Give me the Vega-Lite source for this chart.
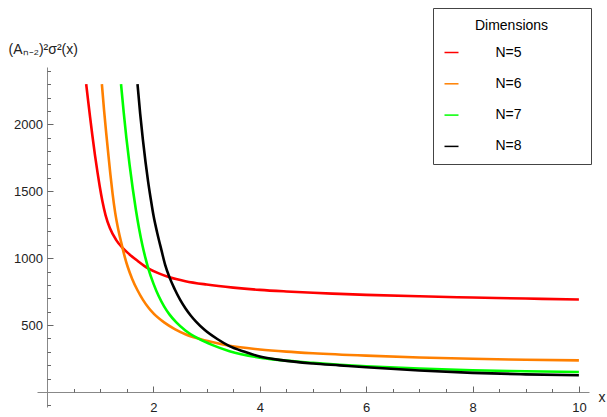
{
  "$schema": "https://vega.github.io/schema/vega-lite/v6.json",
  "width": 552,
  "height": 340,
  "autosize": {"type": "none"},
  "padding": {"left": 37, "top": 67, "right": 18, "bottom": 10},
  "background": "white",
  "config": {"view": {"stroke": null}, "font": "Liberation Sans", "axis": {"grid": false}},
  "data": {"values": [
    {"N":"N=5","x":0.735,"y":2300},{"N":"N=5","x":0.77,"y":2180},{"N":"N=5","x":0.807,"y":2057},{"N":"N=5","x":0.85,"y":1920},{"N":"N=5","x":0.9,"y":1770},{"N":"N=5","x":0.95,"y":1635},{"N":"N=5","x":0.99,"y":1535},{"N":"N=5","x":1.04,"y":1425},{"N":"N=5","x":1.1,"y":1320},{"N":"N=5","x":1.18,"y":1225},{"N":"N=5","x":1.3,"y":1135},{"N":"N=5","x":1.41,"y":1080},{"N":"N=5","x":1.55,"y":1028},{"N":"N=5","x":1.7,"y":980},{"N":"N=5","x":1.9,"y":923},{"N":"N=5","x":2.1,"y":886},{"N":"N=5","x":2.3,"y":857},{"N":"N=5","x":2.6,"y":828},{"N":"N=5","x":3.0,"y":803},{"N":"N=5","x":3.5,"y":780},{"N":"N=5","x":4.0,"y":763},{"N":"N=5","x":4.5,"y":751},{"N":"N=5","x":5.0,"y":741},{"N":"N=5","x":5.5,"y":733},{"N":"N=5","x":6,"y":726},{"N":"N=5","x":7,"y":715},{"N":"N=5","x":8,"y":706},{"N":"N=5","x":9,"y":698},{"N":"N=5","x":10,"y":691},
    {"N":"N=6","x":1.03,"y":2300},{"N":"N=6","x":1.07,"y":2110},{"N":"N=6","x":1.11,"y":1940},{"N":"N=6","x":1.15,"y":1780},{"N":"N=6","x":1.19,"y":1625},{"N":"N=6","x":1.23,"y":1485},{"N":"N=6","x":1.28,"y":1340},{"N":"N=6","x":1.34,"y":1210},{"N":"N=6","x":1.41,"y":1090},{"N":"N=6","x":1.46,"y":1010},{"N":"N=6","x":1.52,"y":930},{"N":"N=6","x":1.6,"y":845},{"N":"N=6","x":1.7,"y":760},{"N":"N=6","x":1.8,"y":690},{"N":"N=6","x":1.9,"y":633},{"N":"N=6","x":2.0,"y":587},{"N":"N=6","x":2.2,"y":520},{"N":"N=6","x":2.4,"y":470},{"N":"N=6","x":2.6,"y":432},{"N":"N=6","x":2.84,"y":400},{"N":"N=6","x":3.1,"y":373},{"N":"N=6","x":3.43,"y":345},{"N":"N=6","x":4,"y":318},{"N":"N=6","x":4.5,"y":302},{"N":"N=6","x":5,"y":290},{"N":"N=6","x":6,"y":272},{"N":"N=6","x":7,"y":258},{"N":"N=6","x":8,"y":248},{"N":"N=6","x":9,"y":241},{"N":"N=6","x":10,"y":236},
    {"N":"N=7","x":1.39,"y":2300},{"N":"N=7","x":1.44,"y":2090},{"N":"N=7","x":1.49,"y":1900},{"N":"N=7","x":1.55,"y":1700},{"N":"N=7","x":1.61,"y":1520},{"N":"N=7","x":1.67,"y":1360},{"N":"N=7","x":1.73,"y":1220},{"N":"N=7","x":1.79,"y":1100},{"N":"N=7","x":1.85,"y":1000},{"N":"N=7","x":1.905,"y":920},{"N":"N=7","x":2.0,"y":810},{"N":"N=7","x":2.1,"y":715},{"N":"N=7","x":2.2,"y":640},{"N":"N=7","x":2.3,"y":580},{"N":"N=7","x":2.43,"y":520},{"N":"N=7","x":2.6,"y":460},{"N":"N=7","x":2.84,"y":400},{"N":"N=7","x":3.1,"y":352},{"N":"N=7","x":3.43,"y":305},{"N":"N=7","x":4,"y":257},{"N":"N=7","x":4.4,"y":238},{"N":"N=7","x":5,"y":218},{"N":"N=7","x":5.5,"y":204},{"N":"N=7","x":6,"y":193},{"N":"N=7","x":7,"y":176},{"N":"N=7","x":8,"y":163},{"N":"N=7","x":9,"y":155},{"N":"N=7","x":10,"y":149},
    {"N":"N=8","x":1.7,"y":2300},{"N":"N=8","x":1.75,"y":2080},{"N":"N=8","x":1.8,"y":1890},{"N":"N=8","x":1.85,"y":1720},{"N":"N=8","x":1.9,"y":1570},{"N":"N=8","x":1.95,"y":1440},{"N":"N=8","x":2.0,"y":1320},{"N":"N=8","x":2.07,"y":1190},{"N":"N=8","x":2.15,"y":1060},{"N":"N=8","x":2.22,"y":950},{"N":"N=8","x":2.3,"y":858},{"N":"N=8","x":2.4,"y":768},{"N":"N=8","x":2.5,"y":690},{"N":"N=8","x":2.6,"y":626},{"N":"N=8","x":2.7,"y":572},{"N":"N=8","x":2.8,"y":526},{"N":"N=8","x":2.96,"y":465},{"N":"N=8","x":3.2,"y":396},{"N":"N=8","x":3.43,"y":343},{"N":"N=8","x":3.7,"y":302},{"N":"N=8","x":4,"y":265},{"N":"N=8","x":4.4,"y":238},{"N":"N=8","x":5,"y":213},{"N":"N=8","x":5.5,"y":199},{"N":"N=8","x":6,"y":185},{"N":"N=8","x":7,"y":161},{"N":"N=8","x":8,"y":143},{"N":"N=8","x":9,"y":132},{"N":"N=8","x":10,"y":125}
  ]},
  "layer": [
    {
      "mark": {"type": "line", "strokeWidth": 2.6, "interpolate": "monotone"},
      "encoding": {
        "x": {"field": "x", "type": "quantitative",
          "scale": {"domain": [-0.19, 10.19], "nice": false, "zero": false},
          "axis": {"orient": "bottom", "values": [2,4,6,8,10], "offset": -15, "tickSize": -6, "labelPadding": 15,
            "domainColor": "#888888", "tickColor": "#666666", "labelColor": "#222222", "labelFontSize": 13, "labelFont": "Liberation Sans",
            "labelFlush": false, "labelOverlap": false, "grid": false,
            "title": "x", "titleX": 561, "titleY": 5, "titleAlign": "left", "titleBaseline": "middle", "titleAngle": 0,
            "titleFontWeight": "normal", "titleFontSize": 14, "titleColor": "#222222", "titleFont": "Liberation Sans"}},
        "y": {"field": "y", "type": "quantitative",
          "scale": {"domain": [-112, 2428], "nice": false, "zero": false},
          "axis": {"orient": "left", "values": [500,1000,1500,2000], "format": "d", "offset": -10, "tickSize": -6, "labelPadding": 10.5,
            "domainColor": "#888888", "tickColor": "#666666", "labelColor": "#222222", "labelFontSize": 13, "labelFont": "Liberation Sans",
            "labelFlush": false, "labelOverlap": false, "grid": false,
            "title": "(Aₙ₋₂)²σ²(x)", "titleX": -39, "titleY": -18, "titleAlign": "left", "titleBaseline": "middle", "titleAngle": 0,
            "titleFontWeight": "normal", "titleFontSize": 14, "titleColor": "#222222", "titleFont": "Liberation Sans"}},
        "color": {"field": "N", "type": "nominal",
          "scale": {"domain": ["N=5","N=6","N=7","N=8"], "range": ["#ff0000","#ff8000","#00ff00","#000000"]},
          "legend": {"orient": "none", "legendX": 396, "legendY": -59, "title": "Dimensions", "titleAnchor": "middle",
            "titleFontSize": 14, "titleFontWeight": "normal", "titleColor": "#000000", "titleFont": "Liberation Sans", "titlePadding": 12,
            "labelFontSize": 14, "labelColor": "#000000", "labelFont": "Liberation Sans", "labelOffset": 36,
            "labelExpr": "datum.label + '\u00a0\u00a0\u00a0\u00a0\u00a0\u00a0\u00a0\u00a0\u00a0\u00a0\u00a0\u00a0\u00a0\u00a0\u00a0\u200b'",
            "padding": 10.5, "rowPadding": 16.3, "strokeColor": "#444444", "fillColor": "white",
            "symbolType": "stroke", "symbolSize": 196, "symbolStrokeWidth": 1.5}}
      }
    },
    {
      "mark": {"type": "point", "opacity": 0},
      "encoding": {
        "x": {"field": "x", "type": "quantitative",
          "scale": {"domain": [-0.19, 10.19], "nice": false, "zero": false},
          "axis": {"orient": "bottom", "values": [0.5,1,1.5,2,2.5,3,3.5,4,4.5,5,5.5,6,6.5,7,7.5,8,8.5,9,9.5,10], "offset": -15, "tickSize": -3.5,
            "labels": false, "domain": false, "grid": false, "title": null, "tickColor": "#666666"}},
        "y": {"field": "y", "type": "quantitative",
          "scale": {"domain": [-112, 2428], "nice": false, "zero": false},
          "axis": {"orient": "left", "values": [-100,100,200,300,400,500,600,700,800,900,1000,1100,1200,1300,1400,1500,1600,1700,1800,1900,2000,2100,2200,2300,2400], "offset": -10, "tickSize": -3.5,
            "labels": false, "domain": false, "grid": false, "title": null, "tickColor": "#666666"}}
      }
    }
  ],
  "resolve": {"axis": {"x": "independent", "y": "independent"}}
}
